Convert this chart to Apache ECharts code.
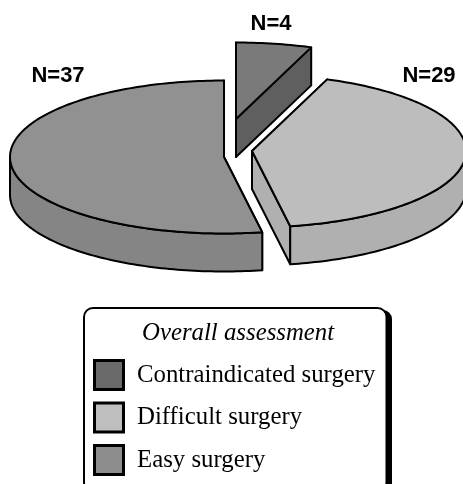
<!DOCTYPE html>
<html>
<head>
<meta charset="utf-8">
<style>html,body{margin:0;padding:0;background:#fff}#c{width:463px;height:484px}</style>
<script src="https://cdn.jsdelivr.net/npm/echarts@6/dist/echarts.min.js"></script>
</head>
<body>
<div id="c"></div>
<script>
const categories = ['Contraindicated surgery', 'Difficult surgery', 'Easy surgery'];
const counts = [4, 29, 37];
const labelPrefix = 'N=';
const legendTitle = 'Overall assessment';

const topColors = ['#7a7a7a', '#bdbdbd', '#919191'];
const sideColors = ['#5f5f5f', '#b0b0b0', '#858585'];
const swatchColors = ['#6a6a6a', '#bebebe', '#8d8d8d'];
const apexes = [[236, 119], [252, 151], [224, 157]];
const labelAnchors = [[271, 24], [429, 76], [58, 76]];
const RX = 214, RY = 76.5, DEPTH = 38;

const total = counts.reduce((a, b) => a + b, 0);
function startAngle(i) {
  let s = 0;
  for (let k = 0; k < i; k++) s += counts[k];
  return s / total * Math.PI * 2;
}
function rim(apex, a, drop) {
  return [apex[0] + RX * Math.sin(a), apex[1] - RY * Math.cos(a) + (drop || 0)];
}
function arcAngles(a0, a1) {
  const out = [];
  const n = Math.max(2, Math.ceil((a1 - a0) / 0.02));
  for (let k = 0; k <= n; k++) out.push(a0 + (a1 - a0) * k / n);
  return out;
}
function poly(points, fill) {
  return {
    type: 'polygon',
    shape: { points: points },
    style: { fill: fill, stroke: '#000', lineWidth: 2, lineJoin: 'round' }
  };
}
function sliceRenderer(i) {
  return function (params, api) {
    const v = api.value(0);
    const a0 = startAngle(i);
    const a1 = a0 + v / total * Math.PI * 2;
    const apex = apexes[i];
    const low = [apex[0], apex[1] + DEPTH];
    const children = [];
    [a0, a1].forEach(function (a) {
      children.push(poly([apex, rim(apex, a), rim(apex, a, DEPTH), low], sideColors[i]));
    });
    const fa0 = Math.max(a0, Math.PI / 2), fa1 = Math.min(a1, Math.PI * 1.5);
    if (fa1 > fa0) {
      const angs = arcAngles(fa0, fa1);
      const pts = angs.map(a => rim(apex, a)).concat(angs.slice().reverse().map(a => rim(apex, a, DEPTH)));
      children.push(poly(pts, sideColors[i]));
    }
    children.push(poly([apex].concat(arcAngles(a0, a1).map(a => rim(apex, a))), topColors[i]));
    children.push({
      type: 'text',
      style: {
        x: labelAnchors[i][0], y: labelAnchors[i][1],
        text: labelPrefix + v,
        font: 'bold 22px "Liberation Sans", Arial, sans-serif',
        fill: '#000', align: 'center', verticalAlign: 'middle'
      }
    });
    return { type: 'group', children: children };
  };
}

const chart = echarts.init(document.getElementById('c'), null, { renderer: 'canvas' });
chart.setOption({
  animation: false,
  backgroundColor: '#fff',
  title: {
    text: legendTitle,
    left: 142, top: 321,
    padding: 0,
    textStyle: { fontFamily: '"Liberation Serif", serif', fontStyle: 'italic', fontWeight: 'normal', fontSize: 24.8, color: '#000' }
  },
  graphic: [{
    type: 'rect',
    z: 0,
    silent: true,
    shape: { x: 92, y: 310, width: 300, height: 190, r: 9 },
    style: { fill: '#000' }
  }],
  legend: {
    orient: 'vertical',
    left: 84, top: 308,
    height: 400,
    padding: [51, 11, 15, 9],
    itemWidth: 29, itemHeight: 29, itemGap: 10.5,
    icon: 'rect',
    backgroundColor: '#fff',
    borderColor: '#000', borderWidth: 2, borderRadius: 9,
    selectedMode: false,
    textStyle: { fontFamily: '"Liberation Serif", serif', fontSize: 24.8, color: '#000', padding: [0, 0, 0, 8.5] },
    data: categories.map((c, i) => ({
      name: c,
      itemStyle: { color: swatchColors[i], borderColor: '#000', borderWidth: 3 }
    }))
  },
  series: [2, 0, 1].map(i => ({
    type: 'custom',
    name: categories[i],
    coordinateSystem: 'none',
    silent: true,
    itemStyle: { color: swatchColors[i] },
    data: [[counts[i]]],
    renderItem: sliceRenderer(i)
  }))
});
</script>
</body>
</html>
